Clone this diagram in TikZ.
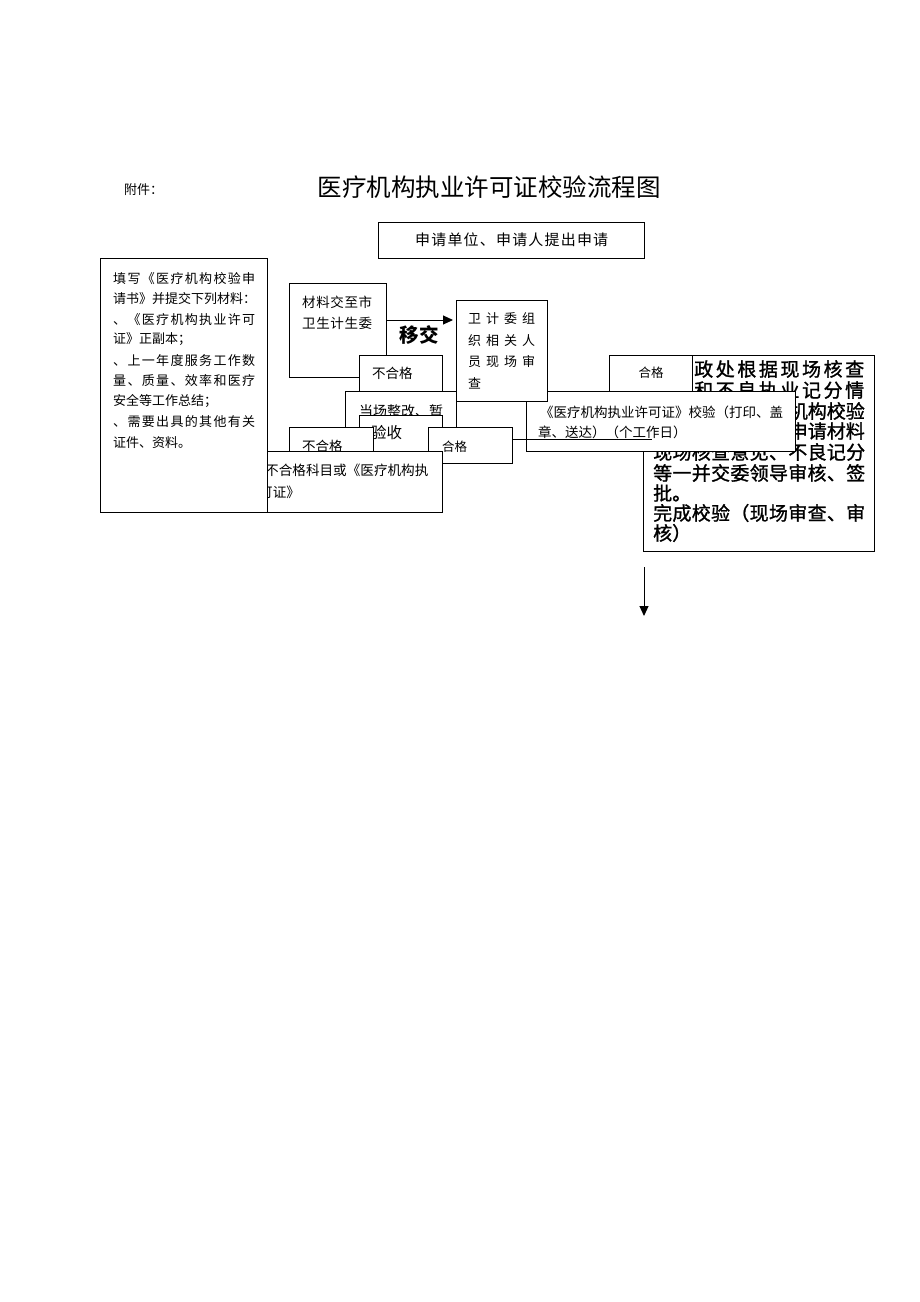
\documentclass[tikz,border=0pt]{standalone}
\usepackage{fontspec}
\setmainfont{Noto Sans CJK SC}
\newfontfamily\medf[FakeBold=1.2]{Noto Sans CJK SC}
\usetikzlibrary{arrows.meta}
\def\jzfirst#1{#1\jzloop}
\def\jzloop#1{\ifx#1\relax\else\hfil#1\expandafter\jzloop\fi}
\newcommand\jl[2]{\hbox to #1pt{\jzfirst#2\relax}}
\newcommand\fs[1]{\fontsize{#1}{#1}\selectfont}
\begin{document}
\begin{tikzpicture}[x=1pt,y=-1pt,
 bx/.style={draw, line width=0.8pt, fill=white, rectangle, inner sep=0pt, outer sep=0pt, anchor=north west},
 tx/.style={inner sep=0pt, anchor=west},
 arr/.style={-{Triangle[length=10pt,width=9pt]}, line width=1pt}]
\fill[white] (0,0) rectangle (920,1302);
\useasboundingbox (0,0) rectangle (920,1302);
% title
\node[tx, font=\fs{13}] (fj) at (124,190) {附件：};
\node[inner sep=0pt, font=\fs{24.5}] (title) at (489,187) {医疗机构执业许可证校验流程图};
% apply box
\node[bx, minimum width=266pt, minimum height=36pt] (sq) at (378,222) {};
\node[tx, font=\fs{15}] (sqt) at (415,240) {\jl{193}{申请单位、申请人提出申请}};
% big right box
\node[bx, minimum width=231pt, minimum height=196pt] (big) at (643,355) {};
\begin{scope}[every node/.style={tx, font=\medf\fs{19}}]
\node (b1) at (694,369) {\jl{170}{政处根据现场核查}};
\node (b2) at (694,390) {\jl{170}{和不良执业记分情}};
\node[anchor=east] (b3) at (865,411) {机构校验};
\node[anchor=east] (b4) at (865,431) {申请材料};
\node (b5) at (653,452) {\jl{212}{现场核查意见、不良记分}};
\node (b6) at (653,473) {\jl{212}{等一并交委领导审核、签}};
\node (b7) at (653,493) {批。};
\node (b8) at (653,513) {\jl{212}{完成校验（现场审查、审}};
\node (b9) at (653,533) {核）};
\end{scope}
% upper pass box
\node[bx, minimum width=83pt, minimum height=60pt] (hg1) at (609,355) {};
\node[inner sep=0pt, font=\fs{12.5}] (hg1t) at (651,373) {合格};
% license check box
\node[bx, minimum width=269pt, minimum height=60pt] (xy) at (526,391) {};
\node[tx, font=\fs{13.5}] (xy1) at (540,412) {\jl{243}{《医疗机构执业许可证》校验（打印、盖}};
\node[tx, font=\fs{13.5}] (xy2) at (538,432) {章、送达）（个工作日）};
% on-site review box
\node[bx, minimum width=91pt, minimum height=101pt] (wj) at (456,300) {};
\begin{scope}[every node/.style={tx, font=\fs{13}}]
\node (wj1) at (468,319) {\jl{67}{卫计委组}};
\node (wj2) at (468,341) {\jl{67}{织相关人}};
\node (wj3) at (468,362) {\jl{67}{员现场审}};
\node (wj4) at (468,383) {查};
\end{scope}
% material box
\node[bx, minimum width=97pt, minimum height=94pt] (cl) at (289,283) {};
\node[tx, font=\fs{13.5}] (cl1) at (302,302) {\jl{70}{材料交至市}};
\node[tx, font=\fs{13.5}] (cl2) at (302,323) {\jl{70}{卫生计生委}};
% upper fail box
\node[bx, minimum width=83pt, minimum height=45pt] (bh1) at (359,355) {};
\node[tx, font=\fs{13.5}] (bh1t) at (372,373) {不合格};
% rectify box
\node[bx, minimum width=111pt, minimum height=60pt] (zg) at (345,391) {};
\node[tx, font=\fs{14}] (zgt) at (359,411) {当场整改、暂};
% acceptance box
\node[bx, minimum width=83pt, minimum height=40pt] (ys) at (359,415) {};
\node[tx, font=\fs{15.5}] (yst) at (371,433) {验收};
% lower fail box
\node[bx, minimum width=84pt, minimum height=40pt] (bh2) at (289,427) {};
\node[tx, font=\fs{13.5}] (bh2t) at (302,446) {不合格};
% lower pass box
\node[bx, minimum width=84pt, minimum height=36pt] (hg2) at (428,427) {};
\node[tx, font=\fs{12.5}] (hg2t) at (442,447) {合格};
% fail items box
\node[bx, minimum width=222pt, minimum height=61pt] (km) at (220,451) {};
\node[tx, font=\fs{13.6}] (km1) at (265,470) {不合格科目或《医疗机构执};
\node[tx, font=\fs{13.6}] (km2) at (259,492) {可证》};
% left materials box
\node[bx, minimum width=167pt, minimum height=254pt] (lb) at (100,258) {};
\begin{scope}[every node/.style={tx, font=\fs{13}}]
\node (l1) at (113,279) {\jl{142}{填写《医疗机构校验申}};
\node (l2) at (113,299) {\jl{143}{请书》并提交下列材料：}};
\node (l3) at (113,320) {\jl{142}{、《医疗机构执业许可}};
\node (l4) at (113,339) {证》正副本；};
\node (l5) at (113,361) {\jl{142}{、上一年度服务工作数}};
\node (l6) at (113,381) {\jl{142}{量、质量、效率和医疗}};
\node (l7) at (113,401) {安全等工作总结；};
\node (l8) at (113,422) {\jl{142}{、需要出具的其他有关}};
\node (l9) at (113,443) {证件、资料。};
\end{scope}
% connectors
\coordinate (ytip) at (453,320);
\draw[arr] (cl.east |- ytip) -- (ytip);
\node[inner sep=0pt, font=\bfseries\fs{19.5}] (yj) at (419,335) {移交};
\coordinate (hgend) at (652,439);
\draw[line width=0.8pt] (hg2.east |- hgend) -- (hgend);
\coordinate (da1) at (644,567);
\coordinate (da2) at (644,616);
\draw[arr] (da1) -- (da2);
\end{tikzpicture}
\end{document}
